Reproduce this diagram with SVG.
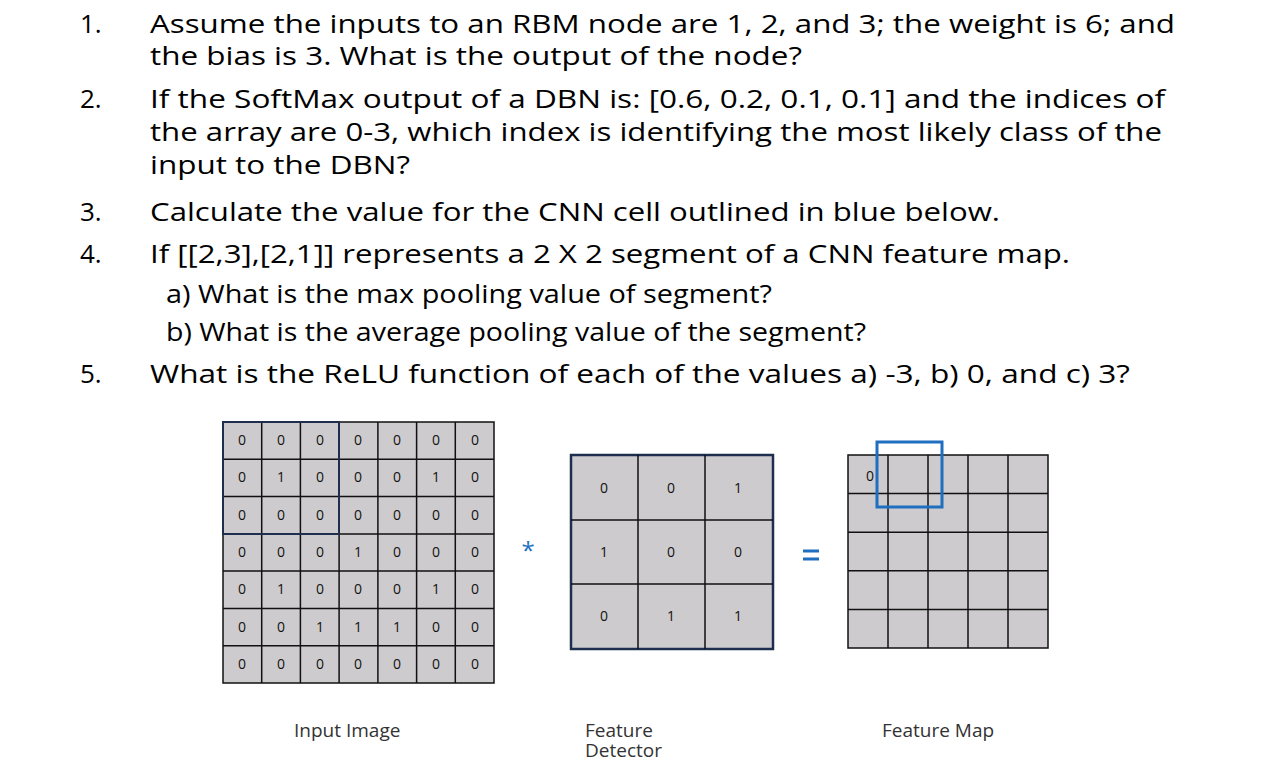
<svg xmlns="http://www.w3.org/2000/svg" width="1284" height="763" viewBox="0 0 1284 763">
<style>
.q{font-family:"Open Sans","Liberation Sans",sans-serif;font-size:26px;fill:#000}
.c{font-family:"Open Sans","Liberation Sans",sans-serif;font-size:14px;fill:#111;text-anchor:middle}
.l{font-family:"Open Sans","Liberation Sans",sans-serif;font-size:19px;fill:#333}
</style>
<rect width="1284" height="763" fill="#fff"/>
<g id="questions">
<text class="q" x="80" y="33">1.</text>
<text class="q" x="150" y="33" textLength="1025" lengthAdjust="spacingAndGlyphs">Assume the inputs to an RBM node are 1, 2, and 3; the weight is 6; and</text>
<text class="q" x="150" y="65" textLength="652" lengthAdjust="spacingAndGlyphs">the bias is 3. What is the output of the node?</text>
<text class="q" x="80" y="108">2.</text>
<text class="q" x="150" y="108" textLength="1015" lengthAdjust="spacingAndGlyphs">If the SoftMax output of a DBN is: [0.6, 0.2, 0.1, 0.1] and the indices of</text>
<text class="q" x="150" y="141" textLength="1012" lengthAdjust="spacingAndGlyphs">the array are 0-3, which index is identifying the most likely class of the</text>
<text class="q" x="150" y="174" textLength="260" lengthAdjust="spacingAndGlyphs">input to the DBN?</text>
<text class="q" x="80" y="221">3.</text>
<text class="q" x="150" y="221" textLength="850" lengthAdjust="spacingAndGlyphs">Calculate the value for the CNN cell outlined in blue below.</text>
<text class="q" x="80" y="263">4.</text>
<text class="q" x="150" y="263" textLength="920" lengthAdjust="spacingAndGlyphs">If [[2,3],[2,1]] represents a 2 X 2 segment of a CNN feature map.</text>
<text class="q" x="166" y="303" font-size="23" textLength="606" lengthAdjust="spacingAndGlyphs">a) What is the max pooling value of segment?</text>
<text class="q" x="166" y="341" font-size="23" textLength="700" lengthAdjust="spacingAndGlyphs">b) What is the average pooling value of the segment?</text>
<text class="q" x="80" y="383">5.</text>
<text class="q" x="150" y="383" textLength="980" lengthAdjust="spacingAndGlyphs">What is the ReLU function of each of the values a) -3, b) 0, and c) 3?</text>
</g>
<g id="input-image">
<rect x="223" y="422" width="271" height="261" fill="#cdcbcd" stroke="#111" stroke-width="1.5"/>
<g stroke="#111" stroke-width="1.5">
<line x1="261.7" y1="422" x2="261.7" y2="683"/><line x1="300.4" y1="422" x2="300.4" y2="683"/><line x1="339.1" y1="422" x2="339.1" y2="683"/><line x1="377.9" y1="422" x2="377.9" y2="683"/><line x1="416.6" y1="422" x2="416.6" y2="683"/><line x1="455.3" y1="422" x2="455.3" y2="683"/>
<line x1="223" y1="459.3" x2="494" y2="459.3"/><line x1="223" y1="496.6" x2="494" y2="496.6"/><line x1="223" y1="533.9" x2="494" y2="533.9"/><line x1="223" y1="571.1" x2="494" y2="571.1"/><line x1="223" y1="608.4" x2="494" y2="608.4"/><line x1="223" y1="645.7" x2="494" y2="645.7"/>
</g>
<rect x="223" y="422" width="116" height="112" fill="none" stroke="#1d2e4f" stroke-width="2"/>
<text x="242" y="445" class="c">0</text><text x="281" y="445" class="c">0</text><text x="320" y="445" class="c">0</text><text x="358" y="445" class="c">0</text><text x="397" y="445" class="c">0</text><text x="436" y="445" class="c">0</text><text x="475" y="445" class="c">0</text>
<text x="242" y="482" class="c">0</text><text x="281" y="482" class="c">1</text><text x="320" y="482" class="c">0</text><text x="358" y="482" class="c">0</text><text x="397" y="482" class="c">0</text><text x="436" y="482" class="c">1</text><text x="475" y="482" class="c">0</text>
<text x="242" y="520" class="c">0</text><text x="281" y="520" class="c">0</text><text x="320" y="520" class="c">0</text><text x="358" y="520" class="c">0</text><text x="397" y="520" class="c">0</text><text x="436" y="520" class="c">0</text><text x="475" y="520" class="c">0</text>
<text x="242" y="557" class="c">0</text><text x="281" y="557" class="c">0</text><text x="320" y="557" class="c">0</text><text x="358" y="557" class="c">1</text><text x="397" y="557" class="c">0</text><text x="436" y="557" class="c">0</text><text x="475" y="557" class="c">0</text>
<text x="242" y="594" class="c">0</text><text x="281" y="594" class="c">1</text><text x="320" y="594" class="c">0</text><text x="358" y="594" class="c">0</text><text x="397" y="594" class="c">0</text><text x="436" y="594" class="c">1</text><text x="475" y="594" class="c">0</text>
<text x="242" y="632" class="c">0</text><text x="281" y="632" class="c">0</text><text x="320" y="632" class="c">1</text><text x="358" y="632" class="c">1</text><text x="397" y="632" class="c">1</text><text x="436" y="632" class="c">0</text><text x="475" y="632" class="c">0</text>
<text x="242" y="669" class="c">0</text><text x="281" y="669" class="c">0</text><text x="320" y="669" class="c">0</text><text x="358" y="669" class="c">0</text><text x="397" y="669" class="c">0</text><text x="436" y="669" class="c">0</text><text x="475" y="669" class="c">0</text>
<text class="l" x="294" y="737">Input Image</text>
</g>
<g id="operator-star"><text x="528" y="559" font-family="'Open Sans',sans-serif" font-size="24" fill="#1f6fc0" text-anchor="middle">*</text></g>
<g id="feature-detector">
<rect x="571" y="455" width="202" height="194" fill="#cdcbcd" stroke="#1d2e4f" stroke-width="2.5"/>
<g stroke="#111" stroke-width="1.5">
<line x1="638" y1="455" x2="638" y2="649"/><line x1="705" y1="455" x2="705" y2="649"/>
<line x1="571" y1="520" x2="773" y2="520"/><line x1="571" y1="584" x2="773" y2="584"/>
</g>
<text x="604" y="493" class="c">0</text><text x="671" y="493" class="c">0</text><text x="738" y="493" class="c">1</text>
<text x="604" y="557" class="c">1</text><text x="671" y="557" class="c">0</text><text x="738" y="557" class="c">0</text>
<text x="604" y="621" class="c">0</text><text x="671" y="621" class="c">1</text><text x="738" y="621" class="c">1</text>
<text class="l" x="585" y="737">Feature</text>
<text class="l" x="585" y="757">Detector</text>
</g>
<g id="operator-equals" stroke="#1f6fc0" stroke-width="3"><line x1="803" y1="551" x2="819" y2="551"/><line x1="803" y1="559" x2="819" y2="559"/></g>
<g id="feature-map">
<rect x="848" y="455" width="200" height="193" fill="#cdcbcd" stroke="#111" stroke-width="1.5"/>
<g stroke="#111" stroke-width="1.5">
<line x1="888" y1="455" x2="888" y2="648"/><line x1="928" y1="455" x2="928" y2="648"/><line x1="968" y1="455" x2="968" y2="648"/><line x1="1008" y1="455" x2="1008" y2="648"/>
<line x1="848" y1="493.6" x2="1048" y2="493.6"/><line x1="848" y1="532.2" x2="1048" y2="532.2"/><line x1="848" y1="570.8" x2="1048" y2="570.8"/><line x1="848" y1="609.4" x2="1048" y2="609.4"/>
</g>
<text x="870" y="481" class="c">0</text>
<rect x="877" y="442" width="65" height="65" fill="none" stroke="#1f6fc0" stroke-width="3"/>
<text class="l" x="882" y="737">Feature Map</text>
</g>
</svg>
